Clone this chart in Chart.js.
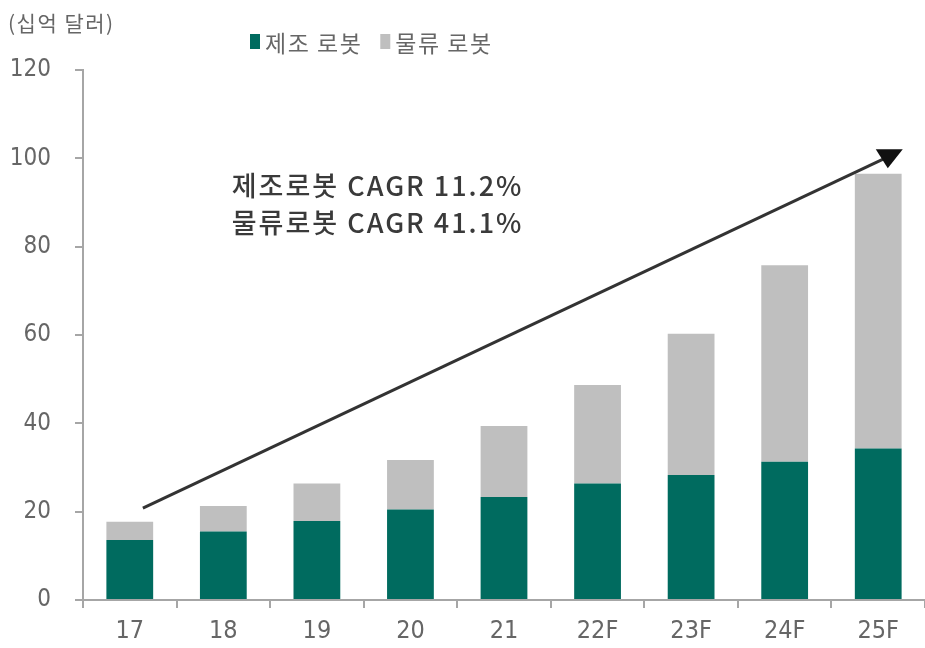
<!DOCTYPE html>
<html>
<head>
<meta charset="utf-8">
<script src="https://cdn.jsdelivr.net/npm/chart.js@4.4.1/dist/chart.umd.min.js"></script>
<style>
  html, body { margin: 0; padding: 0; background: #fff; }
  #wrap { width: 925px; height: 648px; }
</style>
</head>
<body>
<div id="wrap"><canvas id="robotChart" width="925" height="648"></canvas></div>
<script>
// data
const years = ["17", "18", "19", "20", "21", "22F", "23F", "24F", "25F"];
const manufacturing = [13.6, 15.5, 17.9, 20.5, 23.3, 26.4, 28.3, 31.3, 34.3];
const logistics = [4.1, 5.8, 8.5, 11.2, 16.1, 22.3, 32.0, 44.5, 62.2];
const yTicks = [0, 20, 40, 60, 80, 100, 120];
const cagrLines = ["제조로봇 CAGR 11.2%", "물류로봇 CAGR 41.1%"];
const unitLabel = "(십억 달러)";

const GREEN = "#006b5f";
const GRAY = "#bfbfbf";
const TEXT = "#666666";
const KR = "'Noto Sans CJK KR', 'Noto Sans', sans-serif";
const NUM = "'DejaVu Sans Condensed', 'DejaVu Sans', sans-serif";

// unit label, legend, growth arrow and CAGR note
const extras = {
  id: "extras",
  afterDatasetsDraw(chart) {
    const { ctx, scales } = chart;
    const x = scales.x, y = scales.y;
    ctx.save();

    // unit label top-left
    ctx.fillStyle = TEXT;
    ctx.font = "21px " + KR;
    ctx.letterSpacing = "1.5px";
    ctx.textBaseline = "middle";
    ctx.textAlign = "left";
    ctx.fillText(unitLabel, 8, 23);

    // legend
    let lx = 250;
    ctx.font = "23px " + KR;
    chart.data.datasets.forEach((ds) => {
      ctx.fillStyle = ds.backgroundColor;
      ctx.fillRect(lx, 34, 10, 15);
      ctx.fillStyle = TEXT;
      ctx.fillText(ds.label, lx + 15, 43);
      lx += 15 + ctx.measureText(ds.label).width + 18;
    });

    // arrow
    const x0 = x.getPixelForValue(0.14), y0 = y.getPixelForValue(20.8);
    const x1 = x.getPixelForValue(8.07), y1 = y.getPixelForValue(100);
    ctx.strokeStyle = "#333";
    ctx.lineWidth = 3;
    ctx.beginPath();
    ctx.moveTo(x0, y0);
    ctx.lineTo(x1, y1);
    ctx.stroke();
    ctx.fillStyle = "#111";
    ctx.beginPath();
    ctx.moveTo(x1 - 9, y1 - 9);
    ctx.lineTo(x1 + 18, y1 - 9);
    ctx.lineTo(x1 + 3, y1 + 10);
    ctx.closePath();
    ctx.fill();

    // CAGR note
    ctx.fillStyle = "#3a3a3a";
    ctx.font = "500 27px " + KR;
    ctx.letterSpacing = "2px";
    const tx = x.getPixelForValue(1.09);
    ctx.fillText(cagrLines[0], tx, y.getPixelForValue(93.9));
    ctx.fillText(cagrLines[1], tx, y.getPixelForValue(85.5));
    ctx.restore();
  },
};

const ctx = document.getElementById("robotChart").getContext("2d");
const robotChart = new Chart(ctx, {
  type: "bar",
  data: {
    labels: years,
    datasets: [
      {
        label: "제조 로봇",
        data: manufacturing,
        backgroundColor: GREEN,
        barPercentage: 0.5,
        categoryPercentage: 1,
      },
      {
        label: "물류 로봇",
        data: logistics,
        backgroundColor: GRAY,
        barPercentage: 0.5,
        categoryPercentage: 1,
      },
    ],
  },
  options: {
    responsive: false,
    animation: false,
    layout: { padding: { top: 70, right: 0, left: 0, bottom: 0 } },
    scales: {
      x: {
        stacked: true,
        border: { display: true, color: "#a6a6a6", width: 2 },
        grid: { display: true, drawOnChartArea: false, drawTicks: true, tickLength: 8, color: "#a6a6a6", lineWidth: 2 },
        ticks: { color: TEXT, font: { size: 25, family: NUM }, padding: 8 },
        afterFit(s) { s.height = 48; },
      },
      y: {
        stacked: true,
        min: 0,
        max: 120,
        border: { display: true, color: "#a6a6a6", width: 2 },
        grid: { display: true, drawOnChartArea: false, drawTicks: true, tickLength: 8, color: "#a6a6a6", lineWidth: 2 },
        afterBuildTicks(s) { s.ticks = yTicks.map((v) => ({ value: v })); },
        ticks: { color: TEXT, font: { size: 24, family: NUM }, padding: 24 },
        afterFit(s) { s.width = 83; },
      },
    },
    plugins: {
      legend: { display: false },
      tooltip: { enabled: false },
    },
  },
  plugins: [extras],
});
</script>
</body>
</html>
